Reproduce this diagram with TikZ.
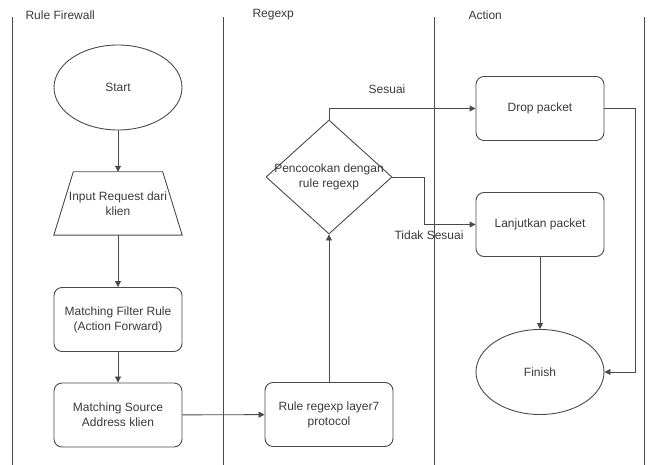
\documentclass[tikz,border=0pt]{standalone}
\usepackage{fontspec}
\setmainfont{Liberation Sans}
\usetikzlibrary{arrows.meta,shapes.geometric,calc}
\definecolor{ln}{HTML}{4A4A4A}
\definecolor{tx}{HTML}{3A3A3A}
\tikzset{
  every node/.style={font=\fontsize{12}{15}\selectfont, text=tx},
  lane/.style={draw=ln, line width=1pt},
  rbox/.style={draw=ln, line width=0.9pt, rounded corners=8pt, minimum width=128pt, minimum height=64pt, align=center, inner sep=0pt},
  oval/.style={draw=ln, line width=0.9pt, ellipse, minimum width=128pt, minimum height=85pt, inner sep=0pt},
  shapeline/.style={draw=ln, line width=0.9pt},
  arr/.style={draw=ln, line width=0.9pt, -{Triangle[length=6pt,width=6pt]}},
  head/.style={anchor=west},
}
\begin{document}
\begin{tikzpicture}[x=1pt,y=-1pt]
\useasboundingbox (0,0) rectangle (649,465);
% swimlane separators
\coordinate (l1t) at (12,17);  \coordinate (l1b) at (12,465);
\coordinate (l2t) at (223,17); \coordinate (l2b) at (223,465);
\coordinate (l3t) at (434,17); \coordinate (l3b) at (434,465);
\coordinate (l4t) at (644,17); \coordinate (l4b) at (644,465);
\draw[lane] (l1t) -- (l1b);
\draw[lane] (l2t) -- (l2b);
\draw[lane] (l3t) -- (l3b);
\draw[lane] (l4t) -- (l4b);
\node[head] (h1) at (22,15) {Rule Firewall};
\node[head] (h2) at (249,15) {Regexp};
\node[head] (h3) at (465,15) {Action};

% lane 1
\node[oval] (start) at (118,87.5) {Start};
\node[minimum width=128pt, minimum height=63pt, inner sep=0pt, align=center] (input) at (118,203.5) {Input Request dari\\klien};
\draw[shapeline] ($(input.north west)+(19.5,0)$) -- ($(input.north east)+(-19.5,0)$) -- (input.south east) -- (input.south west) -- cycle;
\node[rbox] (filter) at (118,319.5) {Matching Filter Rule\\(Action Forward)};
\node[rbox] (source) at (118,415) {Matching Source\\Address klien};

% lane 2
\node[rbox] (rule) at (329,414.5) {Rule regexp layer7\\protocol};
\node[shapeline, diamond, minimum width=126pt, minimum height=114pt, inner sep=0pt] (dec) at (329,177) {};
\node[align=center, inner sep=0pt] (dectext) at (329,177) {Pencocokan dengan\\rule regexp};

% lane 3
\node[rbox] (drop) at (540,108.5) {Drop packet};
\node[rbox] (lanj) at (540,224.5) {Lanjutkan packet};
\node[oval] (finish) at (540,372) {Finish};

% connectors
\draw[arr] (start) -- (input);
\draw[arr] (input) -- (filter);
\draw[arr] (filter) -- (source);
\draw[arr] (source) -- (rule);
\draw[arr] (rule) -- (dec);
\draw[arr] (dec.north) |- (drop.west);
\draw[arr] (dec.east) -- ++(32,0) |- (lanj.west);
\draw[arr] (drop.east) -- ++(31,0) |- (finish.east);
\draw[arr] (lanj) -- (finish);

\node (sesuai) at (387,89) {Sesuai};
\node (tidak) at (429,235.5) {Tidak Sesuai};
\end{tikzpicture}
\end{document}
